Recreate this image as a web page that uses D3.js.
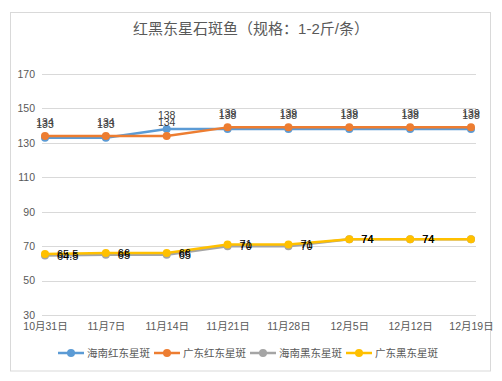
<!DOCTYPE html>
<html><head><meta charset="utf-8">
<script src="https://cdn.jsdelivr.net/npm/d3@7"></script>
<style>body{margin:0;background:#fff}svg{display:block}text{font-family:"Liberation Sans","Noto Sans CJK SC",sans-serif}</style>
</head><body>
<svg id="c" width="502" height="381"></svg>
<script>
const categories = ["10月31日","11月7日","11月14日","11月21日","11月28日","12月5日","12月12日","12月19日"];
const seriesNames = ["海南红东星斑","广东红东星斑","海南黑东星斑","广东黑东星斑"];
const hainanRed = [133,133,138,138,138,138,138,138];
const guangdongRed = [134,134,134,139,139,139,139,139];
const hainanBlack = [64.5,65,65,70,70,74,74,74];
const guangdongBlack = [65.5,66,66,71,71,74,74,74];
const yTicks = [30,50,70,90,110,130,150,170];
const colors = ["#5B9BD5","#ED7D31","#A5A5A5","#FFC000"];

const svg = d3.select("#c");
svg.append("rect").attr("x",10.5).attr("y",12.5).attr("width",480).attr("height",358.5)
  .attr("fill","#fff").attr("stroke","#D9D9D9");
svg.append("text").attr("x",251).attr("y",34).attr("text-anchor","middle")
  .attr("font-size",15).attr("fill","#595959").text("红黑东星石斑鱼（规格：1-2斤/条）");

const x = d3.scalePoint().domain(categories).range([45,471]);
const y = d3.scaleLinear().domain([30,170]).range([315,74]);

svg.append("g").selectAll("line").data(yTicks).join("line")
  .attr("x1",42).attr("x2",476).attr("y1",d=>Math.round(y(d))+0.5).attr("y2",d=>Math.round(y(d))+0.5)
  .attr("stroke","#D9D9D9").attr("stroke-width",1);
const yAxis = d3.axisLeft(y).tickValues(yTicks).tickSize(0).tickPadding(0);
const gy = svg.append("g").attr("transform","translate(35,0)").call(yAxis);
gy.select(".domain").remove();
gy.selectAll("text").attr("font-size",10.5).attr("fill","#595959").attr("font-family",null);
const xAxis = d3.axisBottom(x).tickSize(0).tickPadding(0);
const gx = svg.append("g").attr("transform","translate(0,322.5)").call(xAxis);
gx.select(".domain").remove();
gx.selectAll("text").attr("font-size",10.5).attr("fill","#595959").attr("font-family",null);

const all = [hainanRed,guangdongRed,hainanBlack,guangdongBlack];
const line = d3.line().x((d,i)=>x(categories[i])).y(d=>y(d));
all.forEach((vals,si)=>{
  const g = svg.append("g");
  g.append("path").datum(vals).attr("d",line).attr("fill","none")
    .attr("stroke",colors[si]).attr("stroke-width",2.5).attr("stroke-linejoin","round");
  g.selectAll("circle").data(vals).join("circle")
    .attr("cx",(d,i)=>x(categories[i])).attr("cy",d=>y(d)).attr("r",4).attr("fill",colors[si]);
});
[hainanRed,guangdongRed].forEach(vals=>{
  svg.append("g").selectAll("text").data(vals).join("text")
    .attr("x",(d,i)=>x(categories[i])).attr("y",d=>y(d)-10)
    .attr("text-anchor","middle").attr("font-size",10.5).attr("fill","#404040").text(d=>d);
});
[hainanBlack,guangdongBlack].forEach(vals=>{
  svg.append("g").selectAll("text").data(vals.slice(0,-1)).join("text")
    .attr("x",(d,i)=>x(categories[i])+12).attr("y",d=>y(d)+4)
    .attr("text-anchor","start").attr("font-size",11).attr("fill","#000").text(d=>d);
});
const lx = [58,154,250,346];
const lg = svg.append("g");
seriesNames.forEach((n,i)=>{
  lg.append("line").attr("x1",lx[i]).attr("x2",lx[i]+26).attr("y1",353).attr("y2",353)
    .attr("stroke",colors[i]).attr("stroke-width",2.5);
  lg.append("circle").attr("cx",lx[i]+13).attr("cy",353).attr("r",4).attr("fill",colors[i]);
  lg.append("text").attr("x",lx[i]+29).attr("y",357).attr("font-size",10.5).attr("fill","#595959").text(n);
});
</script>
</body></html>
